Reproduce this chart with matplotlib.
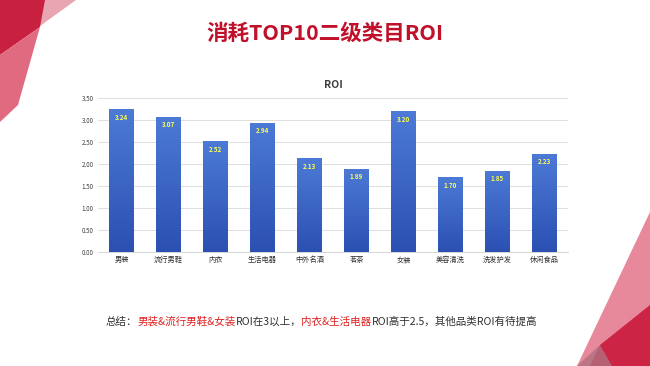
import matplotlib
matplotlib.use("Agg")
import matplotlib.pyplot as plt
import numpy as np
from matplotlib.patches import Polygon
from matplotlib.colors import LinearSegmentedColormap

plt.rcParams['font.family'] = ['Noto Sans CJK SC', 'DejaVu Sans']

categories = ["男装", "流行男鞋", "内衣", "生活电器", "中外名酒", "茗茶", "女装", "美容清洗", "洗发护发", "休闲食品"]
roi = [3.24, 3.07, 2.52, 2.94, 2.13, 1.89, 3.20, 1.70, 1.85, 2.23]
yticks = [0.0, 0.5, 1.0, 1.5, 2.0, 2.5, 3.0, 3.5]

fig = plt.figure(figsize=(6.5, 3.66), dpi=100)
fig.patch.set_facecolor("white")

# decorative corners
bg = fig.add_axes([0, 0, 1, 1], zorder=0)
bg.set_xlim(0, 650); bg.set_ylim(366, 0); bg.axis("off")
bg.add_patch(Polygon([[38, 0], [76, 0], [40, 26]], closed=True, color="#e9a6b2", lw=0))
bg.add_patch(Polygon([[0, 0], [45, 0], [40, 27], [0, 55]], closed=True, color="#c8203f", lw=0))
bg.add_patch(Polygon([[0, 55], [40, 27], [18, 105], [0, 122]], closed=True, color="#e06a80", lw=0))
bg.add_patch(Polygon([[650, 212], [650, 366], [577, 366]], closed=True, color="#e8899b", lw=0))
bg.add_patch(Polygon([[600, 345], [650, 305], [650, 366], [590, 366]], closed=True, color="#cc2444", lw=0))
bg.add_patch(Polygon([[577, 366], [600, 345], [612, 366]], closed=True, color="#b07080", alpha=0.8, lw=0))

fig.text(0.5, 1 - 33 / 366, "消耗TOP10二级类目ROI", ha="center", va="center",
         fontsize=15.5, fontweight="bold", color="#c0102a")

ax = fig.add_axes([98 / 650, 1 - 252 / 366, 470 / 650, (252 - 98) / 366], zorder=1)
x = np.arange(len(categories))
bars = ax.bar(x, roi, width=0.53, color="#3a64c4", zorder=2)

grad = np.linspace(0, 1, 256).reshape(-1, 1)
cmap = LinearSegmentedColormap.from_list("g", ["#2b50b2", "#4d7ad6"])
for b in bars:
    x0, w, h = b.get_x(), b.get_width(), b.get_height()
    im = ax.imshow(grad, extent=[x0, x0 + w, 0, h], origin="lower", cmap=cmap,
                   aspect="auto", zorder=3)
    im.set_clip_path(b)

for xi, v in zip(x, roi):
    ax.text(xi, v - 0.1, f"{v:.2f}", ha="center", va="top", fontsize=4.5,
            fontweight="bold", color="#ffff55", zorder=4)

ax.set_xlim(-0.5, len(categories) - 0.5)
ax.set_ylim(0, 3.5)
ax.set_yticks(yticks)
ax.set_yticklabels([f"{t:.2f}" for t in yticks], fontsize=4.5, color="#404040")
ax.set_xticks(x)
ax.set_xticklabels(categories, fontsize=5.2, color="#303030")
ax.tick_params(length=0, pad=3)
ax.grid(axis="y", color="#d9d9d9", lw=0.6, zorder=0)
for s in ["top", "right", "left"]:
    ax.spines[s].set_visible(False)
ax.spines["bottom"].set_color("#d0d0d0")
ax.spines["bottom"].set_linewidth(0.6)
ax.set_facecolor("none")
ax.set_title("ROI", fontsize=7.5, fontweight="bold", color="#404040", pad=7)

# summary text with colored parts
parts = [("总结：", "#303030"), ("男装&流行男鞋&女装", "#e02020"), ("ROI在3以上，", "#303030"),
         ("内衣&生活电器", "#e02020"), ("ROI高于2.5，其他品类ROI有待提高", "#303030")]
fig.canvas.draw()
renderer = fig.canvas.get_renderer()
xpos = 106 / 650
ypos = 1 - 322 / 366
for txt, col in parts:
    t = fig.text(xpos, ypos, txt, fontsize=7.6, color=col, ha="left", va="center")
    bb = t.get_window_extent(renderer=renderer)
    xpos += bb.width / fig.bbox.width

fig.savefig("out.png", dpi=100)
